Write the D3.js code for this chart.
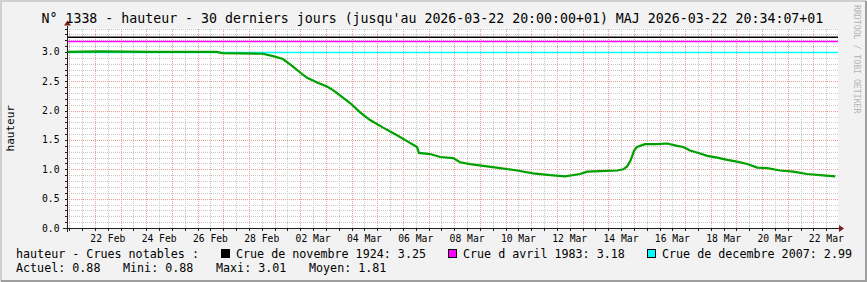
<!DOCTYPE html>
<html>
<head>
<meta charset="utf-8">
<script src="https://cdn.jsdelivr.net/npm/d3@7"></script>
<style>
  body { margin: 0; background: #f2f2f2; }
  svg text { font-family: "DejaVu Sans Mono", monospace; white-space: pre; }
</style>
</head>
<body>
<svg id="chart" width="867" height="282"></svg>
<script>
// hauteur (m)
var times = [
  '2026-02-20 22:00', '2026-02-22 04:40', '2026-02-24 03:30', '2026-02-26 18:00',
  '2026-02-26 23:00', '2026-02-28 13:00', '2026-02-28 22:30', '2026-03-01 07:50',
  '2026-03-01 17:15', '2026-03-01 23:50', '2026-03-02 06:25', '2026-03-02 15:45',
  '2026-03-03 01:00', '2026-03-03 06:40', '2026-03-03 13:10', '2026-03-03 22:35',
  '2026-03-04 08:00', '2026-03-04 17:15', '2026-03-05 05:30', '2026-03-05 18:30',
  '2026-03-06 03:50', '2026-03-06 13:10', '2026-03-06 15:00', '2026-03-07 01:30',
  '2026-03-07 10:50', '2026-03-07 23:00', '2026-03-08 05:30', '2026-03-08 15:00',
  '2026-03-09 03:00', '2026-03-09 19:00', '2026-03-10 10:50', '2026-03-11 01:40',
  '2026-03-11 17:45', '2026-03-12 07:40', '2026-03-12 21:50', '2026-03-13 04:20',
  '2026-03-13 16:30', '2026-03-14 08:25', '2026-03-14 14:00', '2026-03-14 17:45',
  '2026-03-14 20:40', '2026-03-14 22:20', '2026-03-15 00:15', '2026-03-15 03:00',
  '2026-03-15 10:30', '2026-03-15 21:50', '2026-03-16 07:10', '2026-03-16 16:30',
  '2026-03-16 22:10', '2026-03-17 04:35', '2026-03-17 14:00', '2026-03-17 20:35',
  '2026-03-18 06:00', '2026-03-18 15:20', '2026-03-19 00:30', '2026-03-19 10:00',
  '2026-03-19 19:25', '2026-03-20 04:50', '2026-03-20 16:50', '2026-03-21 05:00',
  '2026-03-21 18:00', '2026-03-22 06:15', '2026-03-22 20:25'
];
var hauteur = [
  3.00, 3.01, 3.00, 3.00,
  2.98, 2.97, 2.93, 2.88,
  2.75, 2.65, 2.56, 2.48,
  2.41, 2.35, 2.26, 2.13,
  1.97, 1.84, 1.71, 1.58,
  1.48, 1.38, 1.28, 1.26,
  1.21, 1.19, 1.12, 1.09,
  1.06, 1.02, 0.98, 0.93,
  0.90, 0.88, 0.92, 0.96,
  0.97, 0.98, 1.00, 1.05,
  1.14, 1.22, 1.32, 1.38,
  1.43, 1.43, 1.44, 1.40,
  1.38, 1.32, 1.27, 1.23,
  1.20, 1.16, 1.13, 1.09,
  1.03, 1.02, 0.98, 0.96,
  0.92, 0.90, 0.88
];

// crues notables (hrules)
var crueNames = ['Crue de novembre 1924', 'Crue d avril 1983', 'Crue de decembre 2007'];
var crueValues = [3.25, 3.18, 2.99];
var crueColors = ['#000000', '#ff00ff', '#00ffff'];

var xLabelDays = ['2026-02-22', '2026-02-24', '2026-02-26', '2026-02-28', '2026-03-02',
  '2026-03-04', '2026-03-06', '2026-03-08', '2026-03-10', '2026-03-12', '2026-03-14',
  '2026-03-16', '2026-03-18', '2026-03-20', '2026-03-22'];
var yLabels = [0, 0.5, 1.0, 1.5, 2.0, 2.5, 3.0];

var statNames = ['Actuel', 'Mini', 'Maxi', 'Moyen'];
var statValues = [0.88, 0.88, 3.01, 1.81];

var title = 'N\u00b0 1338 - hauteur - 30 derniers jours (jusqu\'au 2026-03-22 20:00:00+01) MAJ 2026-03-22 20:34:07+01';

var W = 867, H = 282;
// plot box (note: "top" is a reserved window prop, so prefixed names)
var pLeft = 67, pRight = 837, pTop = 28.5, pBottom = 228;

var parseT = d3.utcParse('%Y-%m-%d %H:%M');
var parseD = d3.utcParse('%Y-%m-%d');
var data = times.map(function(t, i) { return {t: parseT(t), v: hauteur[i]}; });

var x = d3.scaleUtc()
  .domain([parseT('2026-02-20 21:50'), parseT('2026-03-22 22:00')])
  .range([pLeft, pRight]);
var y = d3.scaleLinear().domain([0, 3.4]).range([pBottom, pTop]);

var svg = d3.select('#chart');

// background + shade border
svg.append('rect').attr('width', W).attr('height', H).attr('fill', '#f2f2f2');
svg.append('path').attr('d', 'M1,' + (H - 1) + 'V1H' + (W - 1)).attr('stroke', '#cfcfcf').attr('stroke-width', 2).attr('fill', 'none');
svg.append('path').attr('d', 'M1,' + (H - 1) + 'H' + (W - 1) + 'V1').attr('stroke', '#9e9e9e').attr('stroke-width', 2).attr('fill', 'none');

// canvas
svg.append('rect').attr('x', pLeft).attr('y', pTop).attr('width', pRight + 1 - pLeft).attr('height', pBottom - pTop)
  .attr('fill', '#ffffff');

var grid = svg.append('g').attr('shape-rendering', 'crispEdges').attr('stroke-dasharray', '1,1');

// minor vertical grid (noon), major (midnight)
var dom = x.domain();
var noons = d3.utcHour.every(12).range(dom[0], dom[1]).filter(function(d) { return d.getUTCHours() === 12; });
var days = d3.utcDay.range(dom[0], dom[1]);
grid.selectAll('.vmin').data(noons).enter().append('line')
  .attr('x1', function(d) { return Math.round(x(d)) + 0.5; })
  .attr('x2', function(d) { return Math.round(x(d)) + 0.5; })
  .attr('y1', pTop).attr('y2', pBottom)
  .attr('stroke', '#c8c8c8');
// horizontal minor every 0.1
var hmin = d3.range(1, 35).filter(function(i) { return i % 5 !== 0; }).map(function(i) { return i / 10; });
var hmaj = d3.range(1, 7).map(function(i) { return i / 2; });
grid.selectAll('.hmin').data(hmin).enter().append('line')
  .attr('x1', pLeft).attr('x2', pRight + 1)
  .attr('y1', function(d) { return Math.round(y(d)) + 0.5; })
  .attr('y2', function(d) { return Math.round(y(d)) + 0.5; })
  .attr('stroke', '#c8c8c8');
grid.selectAll('.vmaj').data(days).enter().append('line')
  .attr('x1', function(d) { return Math.round(x(d)) + 0.5; })
  .attr('x2', function(d) { return Math.round(x(d)) + 0.5; })
  .attr('y1', pTop).attr('y2', pBottom)
  .attr('stroke', '#ef9c9c');
grid.selectAll('.hmaj').data(hmaj).enter().append('line')
  .attr('x1', pLeft).attr('x2', pRight + 1)
  .attr('y1', function(d) { return Math.round(y(d)) + 0.5; })
  .attr('y2', function(d) { return Math.round(y(d)) + 0.5; })
  .attr('stroke', '#ef9c9c');

// hrules
svg.selectAll('.hrule').data(crueValues).enter().append('line')
  .attr('x1', pLeft).attr('x2', pRight + 1)
  .attr('y1', function(d) { return y(d); })
  .attr('y2', function(d) { return y(d); })
  .attr('stroke', function(d, i) { return crueColors[i]; })
  .attr('stroke-width', 1.5);

// the line
svg.append('path').datum(data)
  .attr('d', d3.line().x(function(d) { return x(d.t); }).y(function(d) { return y(d.v); }))
  .attr('fill', 'none').attr('stroke', '#00a000').attr('stroke-width', 2.2)
  .attr('stroke-linejoin', 'miter');

// axes + ticks
var ax = svg.append('g').attr('shape-rendering', 'crispEdges').attr('stroke', '#1f1f1f');
ax.append('line').attr('x1', pLeft - 4).attr('x2', pRight + 2).attr('y1', pBottom + 0.5).attr('y2', pBottom + 0.5);
ax.append('line').attr('x1', pLeft + 0.5).attr('x2', pLeft + 0.5).attr('y1', pBottom + 4).attr('y2', pTop - 3);
ax.selectAll('.yt').data(hmin.concat(hmaj)).enter().append('line')
  .attr('x1', pLeft - 2).attr('x2', pLeft)
  .attr('y1', function(d) { return Math.round(y(d)) + 0.5; })
  .attr('y2', function(d) { return Math.round(y(d)) + 0.5; });
ax.selectAll('.xt').data(days.concat(noons)).enter().append('line')
  .attr('x1', function(d) { return Math.round(x(d)) + 0.5; })
  .attr('x2', function(d) { return Math.round(x(d)) + 0.5; })
  .attr('y1', pBottom + 1).attr('y2', pBottom + 3);
// arrows
svg.append('path').attr('d', 'M' + (pRight + 2) + ',' + (pBottom - 3) + 'L' + (pRight + 7) + ',' + (pBottom + 0.5) + 'L' + (pRight + 2) + ',' + (pBottom + 4) + 'Z')
  .attr('fill', '#801f1f');
svg.append('path').attr('d', 'M' + (pLeft - 3) + ',' + (pTop - 3) + 'L' + (pLeft + 0.5) + ',' + (pTop - 8) + 'L' + (pLeft + 4) + ',' + (pTop - 3) + 'Z')
  .attr('fill', '#801f1f');

// axis labels
var fmt = d3.utcFormat('%d %b');
svg.selectAll('.xl').data(xLabelDays).enter().append('text')
  .attr('x', function(d) { return x(d3.utcHour.offset(parseD(d), 12)); })
  .attr('y', 241.5)
  .attr('text-anchor', 'middle').attr('font-size', '9.7px').attr('fill', '#000')
  .text(function(d) { return fmt(parseD(d)); });
svg.selectAll('.yl').data(yLabels).enter().append('text')
  .attr('x', 59.5)
  .attr('y', function(d) { return y(d) + 3.5; })
  .attr('text-anchor', 'end').attr('font-size', '9.7px').attr('fill', '#000')
  .text(function(d) { return d.toFixed(1); });
svg.append('text')
  .attr('transform', 'translate(14,' + ((pTop + pBottom) / 2) + ') rotate(-90)')
  .attr('text-anchor', 'middle').attr('font-size', '11px').attr('fill', '#000')
  .text('hauteur');

// title
svg.append('text').attr('x', 41.5).attr('y', 22.5).attr('font-size', '13.25px').attr('fill', '#000').text(title);

// watermark
svg.append('text')
  .attr('transform', 'translate(854,5) rotate(90)')
  .attr('font-size', '8.2px').attr('fill', '#b4b4b4')
  .text('RRDTOOL / TOBI OETIKER');

// legend
var lg = svg.append('g').attr('font-size', '11.7px').attr('fill', '#000');
lg.append('text').attr('x', 16).attr('y', 258).text('hauteur - Crues notables :');
var swX = [221, 448, 647];
crueNames.forEach(function(n, i) {
  lg.append('rect').attr('x', swX[i] + 0.5).attr('y', 249.5).attr('width', 8).attr('height', 8)
    .attr('fill', crueColors[i]).attr('stroke', '#000').attr('shape-rendering', 'crispEdges');
  lg.append('text').attr('x', swX[i] + 15).attr('y', 258).text(n + ': ' + crueValues[i].toFixed(2));
});
var statX = [16, 123, 216, 309];
statNames.forEach(function(n, i) {
  lg.append('text').attr('x', statX[i]).attr('y', 272).text(n + ': ' + statValues[i].toFixed(2));
});
</script>
</body>
</html>
